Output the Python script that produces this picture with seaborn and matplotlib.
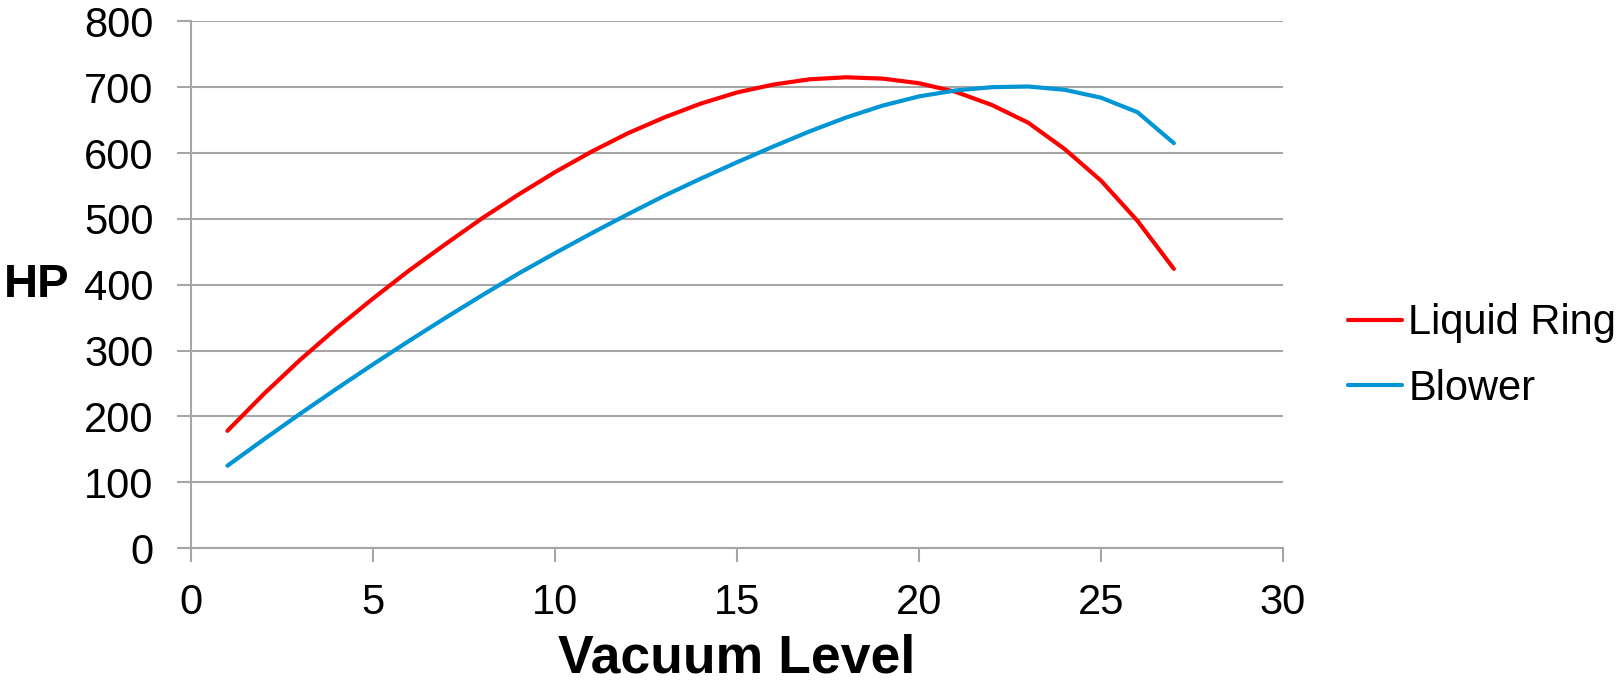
import matplotlib
matplotlib.use("Agg")
import matplotlib.pyplot as plt
from matplotlib.lines import Line2D
import seaborn as sns
import pandas as pd

vacuum = list(range(1, 28))
liquid_ring = [178, 234, 286, 334, 379, 422, 462, 501, 537, 571, 602, 630, 654, 675,
               692, 704, 712, 715, 713, 706, 693, 673, 646, 606, 558, 497, 424]
blower = [125, 165, 204, 242, 279, 315, 350, 384, 417, 448, 478, 507, 535, 561,
          586, 610, 633, 654, 672, 686, 695, 700, 701, 696, 684, 662, 615]
series_names = ["Liquid Ring", "Blower"]
colors = ["#FF0000", "#0096D6"]
x_ticks = [0, 5, 10, 15, 20, 25, 30]
y_ticks = [0, 100, 200, 300, 400, 500, 600, 700, 800]

df = pd.DataFrame({
    "Vacuum Level": vacuum * 2,
    "HP": liquid_ring + blower,
    "Series": [series_names[0]] * len(vacuum) + [series_names[1]] * len(vacuum),
})

sns.set_style("white")
plt.rcParams["font.family"] = ["Liberation Sans", "DejaVu Sans"]
plt.rcParams["text.color"] = "black"
plt.rcParams["axes.labelcolor"] = "black"

fig = plt.figure(figsize=(16.19, 6.84), dpi=100)
ax = fig.add_axes([0.118, 0.1988, 0.6745, 0.77])

sns.lineplot(data=df, x="Vacuum Level", y="HP", hue="Series",
             palette=dict(zip(series_names, colors)), linewidth=3.0, ax=ax,
             legend=False)
for ln in ax.get_lines():
    ln.set_solid_joinstyle("round")
    ln.set_solid_capstyle("round")

ax.set_xlim(0, 30)
ax.set_ylim(0, 800)
ax.set_xticks(x_ticks)
ax.set_yticks(y_ticks)
ax.grid(axis="y", color="#A6A6A6", linewidth=1.5)
ax.grid(axis="x", visible=False)
for s in ["top", "right"]:
    ax.spines[s].set_visible(False)
for s in ["left", "bottom"]:
    ax.spines[s].set_color("#A6A6A6")
    ax.spines[s].set_linewidth(1.5)
ax.tick_params(axis="both", which="major", direction="out", length=10,
               width=1.5, color="#A6A6A6", labelsize=30, labelcolor="black",
               left=True, bottom=True)
ax.tick_params(axis="y", pad=17)
ax.tick_params(axis="x", pad=15)

ax.set_xlabel("Vacuum Level", fontsize=38.5, fontweight="bold", labelpad=8, color="black")
ax.set_ylabel("HP", fontsize=34, fontweight="bold", rotation=0, ha="center",
              va="center", color="black")
ax.yaxis.set_label_coords(-0.141, 0.5)

handles = [Line2D([0], [0], color=c, linewidth=3.0) for c in colors]
fig.legend(handles, series_names, loc="center left",
           bbox_to_anchor=(1348 / 1619, 1 - 356 / 684), frameon=False,
           fontsize=30, handlelength=1.3, handletextpad=0.15, labelspacing=0.62,
           borderaxespad=0, borderpad=0)

fig.savefig("out.png", dpi=100)
